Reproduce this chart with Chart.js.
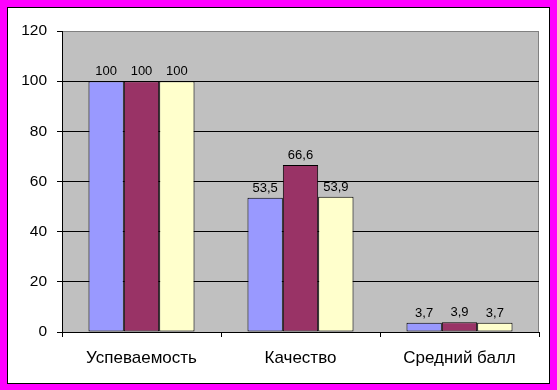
<!DOCTYPE html>
<html>
<head>
<meta charset="utf-8">
<script src="https://cdn.jsdelivr.net/npm/chart.js@4/dist/chart.umd.min.js"></script>
<style>
html,body{margin:0;padding:0;background:#fff;}
#wrap{width:557px;height:390px;}
</style>
</head>
<body>
<div id="wrap"><canvas id="c" width="557" height="390"></canvas></div>
<script>
const categories = ["Успеваемость", "Качество", "Средний балл"];
const series1 = [100, 53.5, 3.7];
const series2 = [100, 66.6, 3.9];
const series3 = [100, 53.9, 3.7];
const yTicks = [0, 20, 40, 60, 80, 100, 120];

const FONT = "'Liberation Sans', Arial, sans-serif";

const framePlugin = {
  id: 'frame',
  beforeDraw(chart) {
    const ctx = chart.ctx;
    ctx.save();
    ctx.fillStyle = '#FF00FF';
    ctx.fillRect(0, 0, 557, 390);
    ctx.fillStyle = '#000';
    ctx.fillRect(7, 7, 543, 377);
    ctx.fillStyle = '#fff';
    ctx.fillRect(8, 8, 541, 375);
    const a = chart.chartArea;
    ctx.fillStyle = '#C0C0C0';
    ctx.fillRect(a.left, a.top, a.right - a.left, a.bottom - a.top);
    ctx.strokeStyle = '#808080';
    ctx.lineWidth = 1;
    ctx.strokeRect(a.left + 0.5, a.top + 0.5, a.right - a.left - 1, a.bottom - a.top);
    ctx.restore();
  }
};

const labelPlugin = {
  id: 'valLabels',
  afterDatasetsDraw(chart) {
    const ctx = chart.ctx;
    ctx.save();
    ctx.font = "13px " + FONT;
    ctx.fillStyle = '#000';
    ctx.textAlign = 'center';
    ctx.textBaseline = 'alphabetic';
    chart.data.datasets.forEach((ds, i) => {
      const meta = chart.getDatasetMeta(i);
      meta.data.forEach((bar, j) => {
        const txt = String(ds.data[j]).replace('.', ',');
        ctx.fillText(txt, bar.x, bar.y - 6);
      });
    });
    ctx.restore();
  }
};

new Chart(document.getElementById('c'), {
  type: 'bar',
  data: {
    labels: categories,
    datasets: [
      { data: series1, backgroundColor: '#9999FF', borderColor: '#000', borderWidth: 1, borderSkipped: false },
      { data: series2, backgroundColor: '#993366', borderColor: '#000', borderWidth: 1, borderSkipped: false },
      { data: series3, backgroundColor: '#FFFFCC', borderColor: '#000', borderWidth: 1, borderSkipped: false }
    ]
  },
  options: {
    responsive: false,
    animation: false,
    devicePixelRatio: 1,
    layout: { padding: { top: 31, right: 18, left: 0, bottom: 0 } },
    plugins: { legend: { display: false }, tooltip: { enabled: false } },
    datasets: { bar: { categoryPercentage: 0.667, barPercentage: 1.0 } },
    scales: {
      x: {
        afterFit(s) { s.height = 58; },
        grid: { display: true, drawOnChartArea: false, drawTicks: true, tickLength: 5, color: '#000', offset: true },
        border: { display: true, color: '#000', width: 1 },
        ticks: { color: '#000', font: { family: FONT, size: 17 }, padding: 11 }
      },
      y: {
        min: 0, max: 120,
        afterFit(s) { s.width = 62; },
        afterBuildTicks(s) { s.ticks = yTicks.map(v => ({ value: v })); },
        grid: {
          color: ctx => (ctx.tick && ctx.tick.value === 120) ? '#808080' : '#000',
          tickColor: '#000',
          tickLength: 5,
          drawTicks: true
        },
        border: { display: true, color: '#000', width: 1 },
        ticks: { color: '#000', font: { family: FONT, size: 15.5 }, padding: 10 }
      }
    }
  },
  plugins: [framePlugin, labelPlugin]
});
</script>
</body>
</html>
